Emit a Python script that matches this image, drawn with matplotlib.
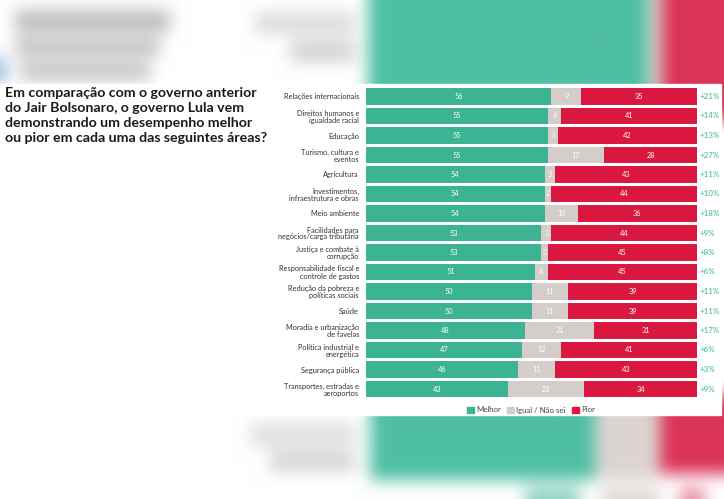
import numpy as np
import matplotlib.pyplot as plt
from matplotlib.patches import Rectangle, Patch

plt.rcParams['font.family'] = ['Lato', 'DejaVu Sans']

# dados
areas = ['Relações internacionais', 'Direitos humanos e\nigualdade racial', 'Educação',
         'Turismo, cultura e\neventos', 'Agricultura', 'Investimentos,\ninfraestrutura e obras',
         'Meio ambiente', 'Facilidades para\nnegócios/carga tributária', 'Justiça e combate à\ncorrupção',
         'Responsabilidade fiscal e\ncontrole de gastos', 'Redução da pobreza e\npolíticas sociais',
         'Saúde', 'Moradia e urbanização\nde favelas', 'Política industrial e\nenergética',
         'Segurança pública', 'Transportes, estradas e\naeroportos']
melhor = [56, 55, 55, 55, 54, 54, 54, 53, 53, 51, 50, 50, 48, 47, 46, 43]
igual = [9, 4, 3, 17, 3, 2, 10, 3, 2, 4, 11, 11, 21, 12, 11, 23]
pior = [35, 41, 42, 28, 43, 44, 36, 44, 45, 45, 39, 39, 31, 41, 43, 34]
saldo = ['+21%', '+14%', '+13%', '+27%', '+11%', '+10%', '+18%', '+9%', '+8%', '+6%',
         '+11%', '+11%', '+17%', '+6%', '+3%', '+9%']
legenda = ['Melhor', 'Igual / Não sei', 'Pior']

verde = '#3cb393'
cinza = '#d4cdc9'
vermelho = '#d9173f'

W, H = 724, 499
fig = plt.figure(figsize=(W / 100, H / 100), dpi=100)

#%%
# fundo borrado (imagem ampliada atras do painel)
bg = np.ones((H, W, 3))
def pinta(x0, x1, y0, y1, cor):
    c = np.array([int(cor[i:i + 2], 16) / 255 for i in (1, 3, 5)])
    bg[y0:y1, x0:x1] = c

pinta(15, 170, 10, 32, '#bdbdbd')
pinta(15, 160, 38, 56, '#c2c2c2')
pinta(20, 150, 62, 80, '#c4c4c4')
pinta(0, 5, 58, 82, '#7fa8d6')
pinta(255, 355, 12, 34, '#dddddd')
pinta(290, 355, 40, 62, '#d4d4d4')
pinta(368, 648, 0, 120, '#4fbfa4')
pinta(648, 662, 0, 120, '#dcd5d1')
pinta(662, 724, 0, 120, '#dc3358')
pinta(250, 355, 422, 447, '#e2e2e2')
pinta(270, 355, 450, 472, '#d8d8d8')
pinta(370, 595, 395, 480, '#4fbfa4')
pinta(595, 660, 395, 480, '#dcd5d1')
pinta(660, 724, 395, 474, '#dc3358')
pinta(525, 580, 488, 499, '#8fd3c1')
pinta(600, 660, 488, 499, '#e0dad7')
pinta(680, 705, 488, 499, '#e68da0')

def borra(a, r):
    k = 2 * r + 1
    for ax_ in (0, 1):
        p = np.pad(a, [(r, r) if i == ax_ else (0, 0) for i in range(3)], mode='edge')
        c = np.cumsum(p, axis=ax_)
        c = np.insert(c, 0, 0, axis=ax_)
        a = (np.take(c, range(k, c.shape[ax_]), axis=ax_) -
             np.take(c, range(0, c.shape[ax_] - k), axis=ax_)) / k
    return a

for _ in range(3):
    bg = borra(bg, 7)

axbg = fig.add_axes([0, 0, 1, 1])
axbg.imshow(np.clip(bg, 0, 1), aspect='auto', interpolation='bilinear')
axbg.axis('off')

# painel branco
fig.patches.append(Rectangle((0, 1 - 415 / H), 721 / W, (415 - 84) / H,
                             transform=fig.transFigure, color='white', zorder=1))

fig.text(5 / W, 1 - 87 / H,
         'Em comparação com o governo anterior\ndo Jair Bolsonaro, o governo Lula vem\n'
         'demonstrando um desempenho melhor\nou pior em cada uma das seguintes áreas?',
         fontsize=10.2, fontweight='bold', color='#1a1a1a', va='top', ha='left',
         linespacing=1.3, zorder=2)

#%%
# grafico
ax = fig.add_axes([366 / W, 1 - 398.75 / H, 331 / W, 312 / H], zorder=3)
ax.patch.set_alpha(0)
y = np.arange(len(areas))
m = np.array(melhor)
g = np.array(igual)
p = np.array(pior)
ax.barh(y, m, height=0.86, color=verde)
ax.barh(y, g, left=m, height=0.86, color=cinza)
ax.barh(y, p, left=m + g, height=0.86, color=vermelho)
for i in range(len(areas)):
    ax.text(m[i] / 2, y[i], str(m[i]), color='white', fontsize=5.3, ha='center', va='center')
    ax.text(m[i] + g[i] / 2, y[i], str(g[i]), color='white', fontsize=5.3, ha='center', va='center')
    ax.text(m[i] + g[i] + p[i] / 2, y[i], str(p[i]), color='white', fontsize=5.3, ha='center', va='center')
    ax.text(100.8, y[i], saldo[i], color=verde, fontsize=5.8, ha='left', va='center')
ax.set_xlim(0, 100)
ax.set_ylim(15.5, -0.5)
ax.set_yticks(y)
ax.set_yticklabels(areas, fontsize=5.3, color='#333333', linespacing=1.0)
ax.tick_params(axis='y', length=0, pad=5)
ax.set_xticks([])
for s in ax.spines.values():
    s.set_visible(False)

leg = fig.legend(handles=[Patch(color=verde), Patch(color=cinza), Patch(color=vermelho)],
                 labels=legenda, loc='center', bbox_to_anchor=(531 / W, 1 - 410 / H),
                 ncol=3, frameon=False, fontsize=5.6, handlelength=0.9, handleheight=0.9,
                 handletextpad=0.3, columnspacing=0.8, labelcolor='#444444')
leg.set_zorder(4)

fig.savefig('out.png', dpi=100)
